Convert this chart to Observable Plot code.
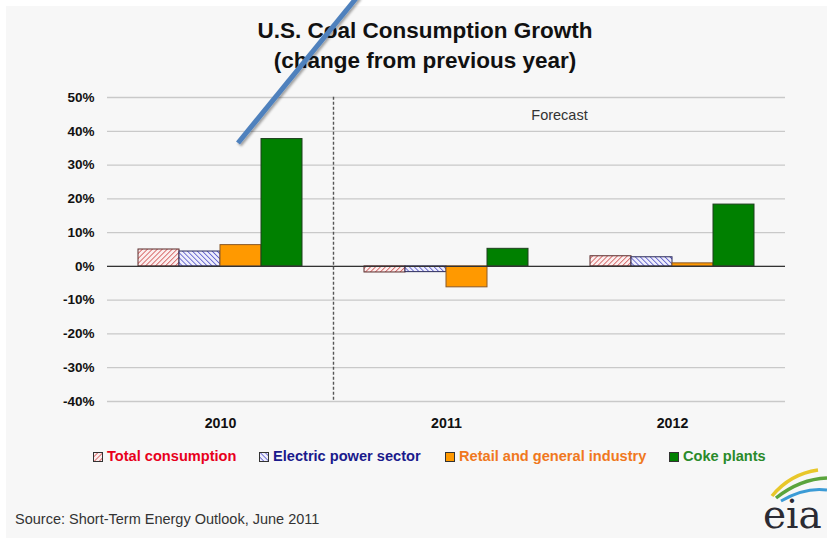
<!DOCTYPE html>
<html>
<head>
<meta charset="utf-8">
<script src="https://cdn.jsdelivr.net/npm/d3@7"></script>
<script src="https://cdn.jsdelivr.net/npm/@observablehq/plot@0.6"></script>
<style>
  html, body { margin: 0; padding: 0; background: #ffffff; }
  #page { position: relative; width: 827px; height: 538px; overflow: hidden; font-family: Arial, "Liberation Sans", sans-serif; }
  #bg { position: absolute; left: 6px; top: 6px; right: 0; bottom: 0; background: #f7f7f7; }
  #title { position: absolute; left: 0; width: 850px; top: 16px; text-align: center; font-weight: bold; font-size: 22.5px; line-height: 30px; color: #111; }
  #chart { position: absolute; left: 0; top: 0; }
  #legend { position: absolute; top: 448px; left: 0; width: 827px; height: 20px; font-weight: bold; font-size: 14.6px; }
  .li { position: absolute; top: 0; white-space: nowrap; }
  #source { position: absolute; left: 15px; top: 511px; font-size: 14.5px; color: #333; }
  #overlay { position: absolute; left: 0; top: 0; pointer-events: none; }
</style>
</head>
<body>
<div id="page">
  <div id="bg"></div>
  <div id="title">U.S. Coal Consumption Growth<br>(change from previous year)</div>
  <div id="chart"></div>
  <div id="legend"></div>
  <div id="source">Source: Short-Term Energy Outlook, June 2011</div>
  <svg id="overlay" width="827" height="538">
    <defs>
      <filter id="sh" x="-20%" y="-20%" width="140%" height="140%">
        <feDropShadow dx="1.5" dy="2" stdDeviation="1.2" flood-color="#000" flood-opacity="0.35"/>
      </filter>
    </defs>
    <line x1="358" y1="-4" x2="238" y2="143" stroke="#4f81bd" stroke-width="5" filter="url(#sh)"/>
    <g>
      <path d="M772,496 Q790,474 818,470" fill="none" stroke="#e8c72a" stroke-width="3.5"/>
      <path d="M776,498 Q800,479 827,478" fill="none" stroke="#5aa43c" stroke-width="3.5"/>
      <path d="M781,501 Q805,487 827,490" fill="none" stroke="#3b9bd6" stroke-width="3"/>
      <text x="763" y="528" font-family="'DejaVu Serif', 'Liberation Serif', serif" font-size="39" fill="#2b2b33">eia</text>
    </g>
  </svg>
</div>
<script>
// ---- Data ----
const years = ["2010", "2011", "2012"];
const series = ["Total consumption", "Electric power sector", "Retail and general industry", "Coke plants"];
const totalConsumption = [0.050, -0.018, 0.030];
const electricPower = [0.044, -0.017, 0.027];
const retailIndustry = [0.063, -0.062, 0.009];
const cokePlants = [0.377, 0.052, 0.183];
const yTicks = [-0.4, -0.3, -0.2, -0.1, 0, 0.1, 0.2, 0.3, 0.4, 0.5];
const seriesFill = ["url(#hatchRed)", "url(#hatchBlue)", "#ff9900", "#008000"];
const seriesStroke = ["#5a2a2a", "#2a2a5a", "#8a5a2a", "#1f3f1f"];
const legendText = ["#e8001c", "#1a1a8c", "#f07820", "#2a8a2a"];
const forecastNote = "Forecast";

const valuesBySeries = [totalConsumption, electricPower, retailIndustry, cokePlants];
const rows = [];
years.forEach((yr, i) => {
  series.forEach((s, j) => rows.push({year: yr, series: s, value: valuesBySeries[j][i]}));
});

const chart = Plot.plot({
  width: 827,
  height: 440,
  marginTop: 97,
  marginBottom: 39,
  marginLeft: 107,
  marginRight: 42,
  style: {background: "transparent", fontFamily: "Arial, 'Liberation Sans', sans-serif"},
  fx: {domain: years, padding: 0, label: null},
  x: {domain: series, paddingInner: 0, paddingOuter: 0.74, axis: null},
  y: {domain: [-0.4, 0.5], label: null},
  color: {domain: series, range: seriesFill},
  marks: [
    Plot.gridY(yTicks, {stroke: "#c9c9c9", strokeOpacity: 1, strokeWidth: 1.3}),
    Plot.axisY(yTicks, {tickSize: 0, tickPadding: 13, fontSize: 13.5, fontWeight: "bold", fill: "#111",
      tickFormat: d => `${Math.round(d * 100)}%`, label: null}),
    Plot.axisFx({anchor: "bottom", tickSize: 0, tickPadding: 16, fontSize: 14.2, fontWeight: "bold", fill: "#111", label: null}),
    Plot.barY(rows, {fx: "year", x: "series", y: "value", fill: "series",
      stroke: d => seriesStroke[series.indexOf(d.series)], strokeWidth: 1, inset: 0}),
    Plot.ruleY([0], {stroke: "#333", strokeWidth: 1.2}),
    Plot.frame({anchor: "left", fx: () => years[1], stroke: "#555", strokeWidth: 1.4, strokeDasharray: "1.5,3.5"}),
    Plot.text([forecastNote], {fx: () => years[1], frameAnchor: "top-right", text: d => d,
      dy: 12, textAnchor: "middle", fontSize: 14.5, fill: "#333"})
  ]
});

// Hatch patterns
const ns = "http://www.w3.org/2000/svg";
const defs = document.createElementNS(ns, "defs");
defs.innerHTML = `
  <pattern id="hatchRed" patternUnits="userSpaceOnUse" width="3.5" height="3.5" patternTransform="rotate(45)">
    <rect width="3.5" height="3.5" fill="#fbeeee"/>
    <line x1="0" y1="0" x2="0" y2="3.5" stroke="#d04a4a" stroke-width="1.5"/>
  </pattern>
  <pattern id="hatchBlue" patternUnits="userSpaceOnUse" width="3.5" height="3.5" patternTransform="rotate(-45)">
    <rect width="3.5" height="3.5" fill="#eeeefb"/>
    <line x1="0" y1="0" x2="0" y2="3.5" stroke="#4a4ac8" stroke-width="1.5"/>
  </pattern>`;
chart.insertBefore(defs, chart.firstChild);
document.getElementById("chart").appendChild(chart);

// Legend
const legendX = [93, 259, 445, 669];
const legend = document.getElementById("legend");
const swatchSvg = (j) => {
  const f = seriesFill[j];
  return `<svg width="10" height="10" style="vertical-align:-1px;margin-right:4px"><rect x="0.5" y="0.5" width="9" height="9" fill="${f}" stroke="#333" stroke-width="1"/></svg>`;
};
series.forEach((s, j) => {
  const el = document.createElement("div");
  el.className = "li";
  el.style.left = legendX[j] + "px";
  el.innerHTML = swatchSvg(j) + `<span style="color:${legendText[j]}">${s}</span>`;
  legend.appendChild(el);
});
</script>
</body>
</html>
